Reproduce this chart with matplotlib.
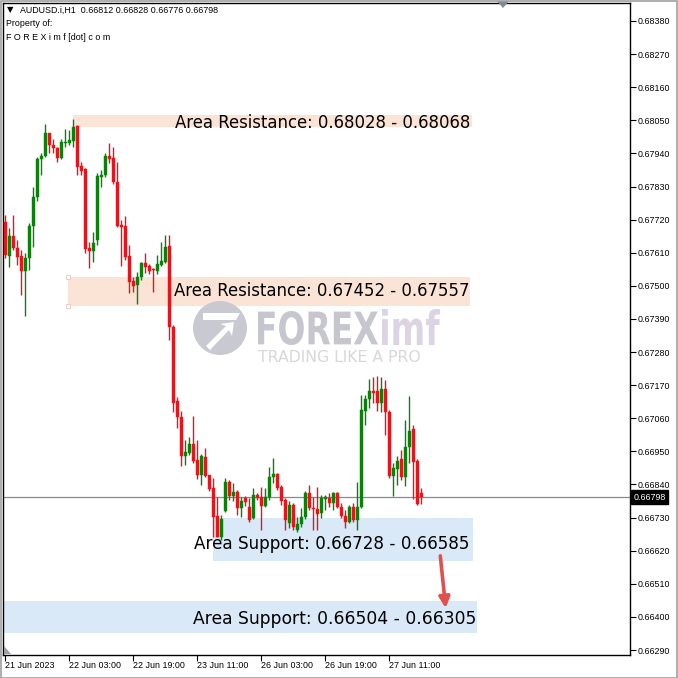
import matplotlib
matplotlib.use("Agg")
import matplotlib.pyplot as plt
from matplotlib.patches import Rectangle, Circle, Polygon, FancyArrowPatch, PathPatch
from matplotlib.textpath import TextPath
from matplotlib.font_manager import FontProperties
from matplotlib.transforms import Affine2D, offset_copy

# ---------------- data ----------------
opens = [0.67712, 0.67599, 0.67666, 0.67626, 0.67599, 0.67549, 0.67593, 0.67699, 0.67795, 0.67921,
         0.67931, 0.68008, 0.67968, 0.67958, 0.67925, 0.67975, 0.67975, 0.67981, 0.68031, 0.67898,
         0.67888, 0.67626, 0.67616, 0.67652, 0.67862, 0.67868, 0.67931, 0.67925, 0.67845, 0.67702,
         0.67699, 0.67599, 0.67516, 0.67503, 0.67529, 0.67576, 0.67566, 0.67556, 0.67549, 0.67569,
         0.67579, 0.67632, 0.67363, 0.67117, 0.67064, 0.66935, 0.66945, 0.66975, 0.66921, 0.66871,
         0.66931, 0.66871, 0.66828, 0.66735, 0.66666, 0.66752, 0.66848, 0.66802, 0.66815, 0.66762,
         0.66795, 0.66765, 0.66729, 0.66805, 0.66798, 0.66769, 0.66798, 0.66865, 0.66875, 0.66832,
         0.66788, 0.66712, 0.66772, 0.66689, 0.66709, 0.66732, 0.66812, 0.66762, 0.66758, 0.66745,
         0.66792, 0.66795, 0.66778, 0.66812, 0.66765, 0.66735, 0.66715, 0.66765, 0.66722, 0.66765,
         0.67084, 0.67124, 0.67151, 0.67151, 0.67111, 0.67157, 0.67081, 0.66868, 0.66891, 0.66925,
         0.66865, 0.66965, 0.67024, 0.66918, 0.66812]
highs = [0.67735, 0.67692, 0.67735, 0.67652, 0.67619, 0.67609, 0.67709, 0.67828, 0.67928, 0.67941,
         0.68038, 0.68008, 0.67988, 0.67961, 0.67988, 0.68021, 0.68018, 0.68054, 0.68034, 0.67911,
         0.67892, 0.67646, 0.67679, 0.67875, 0.67885, 0.67941, 0.67975, 0.67961, 0.67911, 0.67719,
         0.67732, 0.67636, 0.67529, 0.67546, 0.67579, 0.67609, 0.67573, 0.67559, 0.67602, 0.67646,
         0.67669, 0.67669, 0.67370, 0.67131, 0.67084, 0.66988, 0.66998, 0.67068, 0.66988, 0.66941,
         0.66961, 0.66871, 0.66861, 0.66798, 0.66739, 0.66861, 0.66855, 0.66845, 0.66822, 0.66798,
         0.66802, 0.66795, 0.66828, 0.66812, 0.66832, 0.66828, 0.66898, 0.66928, 0.66878, 0.66838,
         0.66795, 0.66785, 0.66778, 0.66732, 0.66762, 0.66818, 0.66838, 0.66798, 0.66832, 0.66805,
         0.66805, 0.66812, 0.66815, 0.66815, 0.66778, 0.66755, 0.66772, 0.66778, 0.66848, 0.67137,
         0.67137, 0.67190, 0.67197, 0.67200, 0.67197, 0.67187, 0.67087, 0.66911, 0.66935, 0.66955,
         0.67054, 0.67134, 0.67038, 0.66925, 0.66828]
lows = [0.67593, 0.67563, 0.67619, 0.67569, 0.67470, 0.67400, 0.67553, 0.67629, 0.67782, 0.67868,
        0.67928, 0.67941, 0.67941, 0.67911, 0.67921, 0.67961, 0.67968, 0.67961, 0.67868, 0.67868,
        0.67609, 0.67559, 0.67579, 0.67636, 0.67828, 0.67862, 0.67908, 0.67838, 0.67696, 0.67566,
        0.67586, 0.67476, 0.67480, 0.67440, 0.67519, 0.67543, 0.67539, 0.67480, 0.67539, 0.67566,
        0.67576, 0.67320, 0.67081, 0.67028, 0.66901, 0.66905, 0.66938, 0.66911, 0.66858, 0.66838,
        0.66865, 0.66818, 0.66666, 0.66666, 0.66655, 0.66749, 0.66788, 0.66785, 0.66739, 0.66732,
        0.66769, 0.66715, 0.66725, 0.66788, 0.66689, 0.66765, 0.66788, 0.66845, 0.66822, 0.66772,
        0.66689, 0.66695, 0.66689, 0.66682, 0.66699, 0.66725, 0.66755, 0.66689, 0.66689, 0.66729,
        0.66755, 0.66765, 0.66755, 0.66762, 0.66729, 0.66695, 0.66712, 0.66715, 0.66689, 0.66762,
        0.67038, 0.67094, 0.67111, 0.67084, 0.67081, 0.67004, 0.66861, 0.66802, 0.66838, 0.66855,
        0.66835, 0.66911, 0.66792, 0.66772, 0.66776]
closes = [0.67602, 0.67666, 0.67626, 0.67596, 0.67549, 0.67593, 0.67699, 0.67795, 0.67921, 0.67931,
          0.68008, 0.67968, 0.67958, 0.67925, 0.67978, 0.67978, 0.67985, 0.68028, 0.67895, 0.67882,
          0.67622, 0.67616, 0.67642, 0.67865, 0.67868, 0.67931, 0.67921, 0.67845, 0.67699, 0.67696,
          0.67596, 0.67513, 0.67500, 0.67529, 0.67576, 0.67563, 0.67549, 0.67553, 0.67573, 0.67583,
          0.67629, 0.67363, 0.67111, 0.67064, 0.66935, 0.66948, 0.66975, 0.66918, 0.66871, 0.66935,
          0.66868, 0.66825, 0.66732, 0.66666, 0.66725, 0.66848, 0.66802, 0.66815, 0.66762, 0.66785,
          0.66782, 0.66722, 0.66805, 0.66795, 0.66769, 0.66798, 0.66865, 0.66875, 0.66828, 0.66785,
          0.66722, 0.66772, 0.66699, 0.66709, 0.66732, 0.66812, 0.66762, 0.66758, 0.66742, 0.66795,
          0.66798, 0.66778, 0.66812, 0.66765, 0.66735, 0.66715, 0.66765, 0.66722, 0.66765, 0.67087,
          0.67124, 0.67151, 0.67144, 0.67111, 0.67157, 0.67081, 0.66868, 0.66895, 0.66918, 0.66865,
          0.66965, 0.67018, 0.66915, 0.66775, 0.66798]

time_labels = ["21 Jun 2023", "22 Jun 03:00", "22 Jun 19:00", "23 Jun 11:00",
               "26 Jun 03:00", "26 Jun 19:00", "27 Jun 11:00"]
time_label_bars = [0, 16, 32, 48, 64, 80, 96]

price_ticks = [0.66290, 0.66400, 0.66510, 0.66620, 0.66730, 0.66840, 0.66950, 0.67060, 0.67170,
               0.67280, 0.67390, 0.67500, 0.67610, 0.67720, 0.67830, 0.67940, 0.68050, 0.68160,
               0.68270, 0.68380]

zone_labels = ["Area Resistance: 0.68028 - 0.68068", "Area Resistance: 0.67452 - 0.67557",
               "Area Support: 0.66728 - 0.66585", "Area Support: 0.66504 - 0.66305"]
zone_bottoms = [0.68028, 0.67433, 0.66585, 0.66346]
zone_tops = [0.68068, 0.67529, 0.66728, 0.66453]
zone_start_bar = [17, 15.75, 52, -0.5]
zone_end_bar = [116.75, 116.25, 117, 118]
zone_text_bar = [116.25, 116.0, 116.0, 117.8]
zone_text_shift_pt = [-1.5, 0.5, -3.0, -1.5]
zone_text_size = [11.9, 11.9, 12.1, 12.3]
zone_kinds = ["res", "res", "sup", "sup"]

current_price = 0.66798
symbol_title = "AUDUSD.i,H1  0.66812 0.66828 0.66776 0.66798"

# ---------------- figure ----------------
W = 678
fig = plt.figure(figsize=(6.78, 6.78), dpi=100)
fig.patch.set_facecolor("white")
ax = fig.add_axes([3 / W, 23 / W, 627 / W, 652 / W])
ax.set_facecolor("white")
ax.set_xlim(-0.5, 156.25)
ax.set_ylim(0.662734, 0.684398)

GREEN = "#0d7f0d"
RED = "#e8141b"
RES_FILL = "#fbe3d6"
SUP_FILL = "#d9e9f8"

# zones
for b, t, s, e, k in zip(zone_bottoms, zone_tops, zone_start_bar, zone_end_bar, zone_kinds):
    ax.add_patch(Rectangle((s, b), e - s, t - b, facecolor=RES_FILL if k == "res" else SUP_FILL,
                           edgecolor="none", zorder=1))

# selection handles on second resistance zone
for yy in (zone_bottoms[1], zone_tops[1]):
    ax.plot([zone_start_bar[1]], [yy], marker="s", ms=3, mfc="white", mec="#e8c8b8", mew=0.6,
            zorder=2)


# watermark (figure pixel coords)
def fx(px):
    return px / W


def fy(py):
    return 1 - py / W


fig.patches.append(Circle((fx(220), fy(328)), 27 / W, transform=fig.transFigure,
                          facecolor="#c9c9d2", edgecolor="none", zorder=1.5))
fig.patches.append(Polygon([(fx(203), fy(313)), (fx(240), fy(313)), (fx(236), fy(320)),
                            (fx(203), fy(320))], closed=True, transform=fig.transFigure,
                           facecolor="white", edgecolor="none", zorder=1.6))
fig.patches.append(Polygon([(fx(206), fy(346)), (fx(226), fy(326)), (fx(220), fy(324)),
                            (fx(234), fy(322)), (fx(232), fy(336)), (fx(229), fy(330)),
                            (fx(210), fy(350))], closed=True, transform=fig.transFigure,
                           facecolor="white", edgecolor="none", zorder=1.6))


def boxed_text(s, x0, x1, ytop, ybot, color, weight="bold"):
    tp = TextPath((0, 0), s, size=50, prop=FontProperties(family="DejaVu Sans", weight=weight))
    bb = tp.get_extents()
    sx = (x1 - x0) / bb.width
    sy = (ybot - ytop) / bb.height
    tr = Affine2D().translate(-bb.x0, -bb.y0).scale(sx, sy).translate(x0, W - ybot)
    fig.patches.append(PathPatch(tr.transform_path(tp), facecolor=color, edgecolor="none",
                                 transform=None, zorder=1.5))


boxed_text("FOREX", 258, 378, 311, 345, "#c6c6cf")
boxed_text("imf", 382, 440, 309, 345, "#ddd4e3")
fig.text(fx(258), fy(357), "TRADING LIKE A PRO", fontsize=11.3, color="#d8d8dc",
         family="DejaVu Sans", va="center", ha="left", zorder=1.5)

# candles
for i, (o, h, l, c) in enumerate(zip(opens, highs, lows, closes)):
    col = GREEN if c >= o else RED
    ax.vlines(i, l, h, color=col, lw=1.0, zorder=3)
    lo, hi = min(o, c), max(o, c)
    if hi - lo < 0.00003:
        ax.hlines((o + c) / 2, i - 0.38, i + 0.38, color=col, lw=1.2, zorder=3)
    else:
        ax.bar(i, hi - lo, bottom=lo, width=0.75, color=col, edgecolor=col, lw=0.3, zorder=3)

# zone labels
for b, t, lab, tx, sh, fs in zip(zone_bottoms, zone_tops, zone_labels, zone_text_bar,
                                 zone_text_shift_pt, zone_text_size):
    trans = offset_copy(ax.transData, fig=fig, x=0, y=sh, units="points")
    ax.text(tx, (b + t) / 2, lab, fontsize=fs, family="DejaVu Sans", color="black",
            ha="right", va="center", zorder=5, transform=trans)

# current price line
ax.axhline(current_price, color="#7f8c96", lw=0.9, zorder=2)

# red arrow
ax.add_patch(FancyArrowPatch((108.75, 0.66612), (110.25, 0.66420), arrowstyle="-|>",
                             mutation_scale=16, color="#e0504c", lw=2.6, zorder=6))

# axes styling
for s in ax.spines.values():
    s.set_color("black")
    s.set_linewidth(1.0)

ax.yaxis.tick_right()
ax.set_yticks(price_ticks)
ax.set_yticklabels([f"{p:.5f}" for p in price_ticks])
ax.tick_params(axis="y", direction="out", length=4, width=0.8, pad=1.5, labelsize=6.4,
               colors="black", labelfontfamily="Liberation Sans")
ax.set_xticks(time_label_bars)
ax.set_xticklabels(time_labels)
ax.tick_params(axis="x", direction="out", length=4, width=0.8, pad=0.5, labelsize=6.4,
               colors="black", labelfontfamily="Liberation Sans")
for lbl in ax.get_xticklabels():
    lbl.set_horizontalalignment("left")

# current price tag on the axis
ax.text(1.005, current_price, f"{current_price:.5f}", transform=ax.get_yaxis_transform(),
        fontsize=6.4, family="Liberation Sans", color="white", ha="left", va="center",
        bbox=dict(boxstyle="square,pad=0.25", facecolor="black", edgecolor="black"), zorder=7,
        clip_on=False)

# header
fig.text(fx(7), fy(10), "\u25bc", fontsize=6, color="black", va="center", ha="left")
fig.text(fx(20), fy(10), symbol_title, fontsize=6.4, family="Liberation Sans", va="center",
         ha="left")
fig.text(fx(6), fy(24), "Property of:", fontsize=6.4, family="Liberation Sans", va="center",
         ha="left")
fig.text(fx(6), fy(37), "F O R E X i m f [dot] c o m", fontsize=6.4, family="Liberation Sans",
         va="center", ha="left")

# small markers (shift triangle at top, scroll triangle bottom-left)
fig.patches.append(Polygon([(fx(497), fy(1)), (fx(509), fy(1)), (fx(503), fy(8))], closed=True,
                           transform=fig.transFigure, facecolor="#7f8b98", edgecolor="none",
                           zorder=8))
fig.patches.append(Polygon([(fx(4), fy(646)), (fx(4), fy(654)), (fx(11), fy(654))], closed=True,
                           transform=fig.transFigure, facecolor="#9aa0a8", edgecolor="none",
                           zorder=8))

# outer frame
fig.patches.append(Rectangle((0.5 / W, 0.5 / W), 1 - 1.5 / W, 1 - 1.5 / W, transform=fig.transFigure,
                             fill=False, edgecolor="#a0a0a0", lw=1.2, zorder=9))

fig.savefig("out.png", dpi=100, facecolor="white")
